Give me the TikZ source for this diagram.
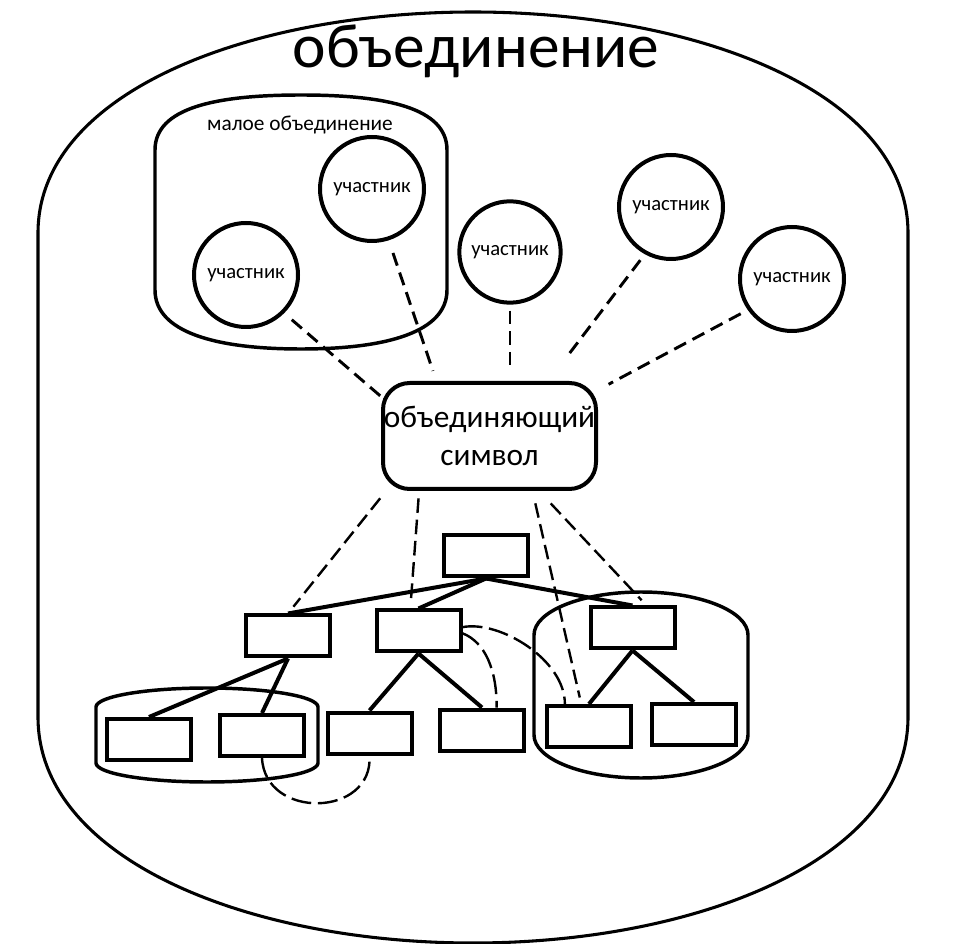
\documentclass[tikz,border=0pt]{standalone}
\usepackage{fontspec}
\setmainfont{Carlito}
\usepackage{graphicx}
\usetikzlibrary{calc}
\begin{document}
\begin{tikzpicture}[x=0.75pt,y=-0.75pt,
  outerln/.style={line width=2.3pt},
  grp/.style={line width=2.6pt},
  mem/.style={circle, draw, line width=3pt, minimum size=78pt, inner sep=0pt, font=\fontsize{15.5}{18}\selectfont},
  rbox/.style={rectangle, draw, line width=3pt, minimum width=63pt, minimum height=30.75pt, inner sep=0pt},
  symb/.style={rectangle, rounded corners=20pt, draw, line width=3pt, minimum width=159.75pt, minimum height=79.5pt, inner sep=0pt, align=center, font=\fontsize{23.5}{28}\selectfont},
  treeln/.style={line width=3pt},
  dashtop/.style={line width=2.2pt, dash pattern=on 10pt off 5.5pt},
  dashbot/.style={line width=1.8pt, dash pattern=on 11pt off 5pt},
  cdash/.style={line width=1.8pt, dash pattern=on 15pt off 5pt}]
\useasboundingbox (0,0) rectangle (968,944);
\fill[white] (0,0) rectangle (968,944);

% outer union shape
\draw[outerln] (38,717) -- (38,233) .. controls (38,92) and (250,12) .. (473,12) .. controls (696,12) and (908,92) .. (908,233) -- (908,717) .. controls (908,860) and (696,943) .. (473,943) .. controls (250,943) and (38,860) .. (38,717) -- cycle;
\node[anchor=base, inner sep=0pt] (title) at (476,68) {\resizebox{275pt}{\height}{\fontsize{47}{56}\selectfont объединение}};

% small union
\draw[grp] (155,290) -- (155,150) .. controls (155,108) and (215,95) .. (301,95) .. controls (387,95) and (447,108) .. (447,150) -- (447,290) .. controls (447,332) and (387,349) .. (301,349) .. controls (215,349) and (155,332) .. (155,290) -- cycle;
\node[anchor=base, inner sep=0pt, font=\fontsize{16}{19}\selectfont] (small) at (300,131) {малое объединение};

% members
\node[mem] (c1) at (246,275) {участник};
\node[mem] (c2) at (372,189) {участник};
\node[mem, minimum size=76pt] (c3) at (510,252) {участник};
\node[mem] (c4) at (671,207) {участник};
\node[mem] (c5) at (792,279) {участник};

% union symbol
\node[symb] (sym) at (489.5,436) {объединяющий\\символ};

% group shapes
\draw[grp] (96,763) -- (96,707) arc[start angle=180,end angle=0,x radius=83.25pt,y radius=14.25pt] -- (318,763) arc[start angle=0,end angle=-180,x radius=83.25pt,y radius=14.25pt] -- cycle;
\draw[grp] (534,735) -- (534,635) arc[start angle=180,end angle=0,x radius=80.25pt,y radius=32.25pt] -- (748,735) arc[start angle=0,end angle=-180,x radius=80.25pt,y radius=32.25pt] -- cycle;

% tree boxes
\node[rbox] (root) at (486,556) {};
\node[rbox] (L1l) at (288,636) {};
\node[rbox] (L1m) at (418.5,631) {};
\node[rbox] (L1r) at (632.5,628) {};
\node[rbox] (A) at (149,739.5) {};
\node[rbox] (B) at (262,735.5) {};
\node[rbox] (C) at (369.5,733) {};
\node[rbox] (D) at (482,730) {};
\node[rbox] (E) at (589,726.5) {};
\node[rbox] (F) at (694,724.5) {};

% tree lines
\draw[treeln] (root.south) -- (L1l.north);
\draw[treeln] (root.south) -- (L1m.north);
\draw[treeln] (root.south) -- (L1r.north);
\draw[treeln] (L1l.south) -- (A.north);
\draw[treeln] (L1l.south) -- (B.north);
\draw[treeln] (L1m.south) -- (C.north);
\draw[treeln] (L1m.south) -- (D.north);
\draw[treeln] (L1r.south) -- (E.north);
\draw[treeln] (L1r.south) -- (F.north);

% dashed links members - symbol
\draw[dashtop, shorten <=7.5pt] (c1.-45) -- (sym.160);
\draw[dashtop, shorten <=10pt, shorten >=8pt] (c2.-72) -- (sym.134);
\draw[dashtop, shorten <=4.5pt, shorten >=7pt] (c3.south) -- (c3.south |- sym.north);
\draw[dashtop, shorten <=5.6pt, shorten >=23pt] (c4.-119) -- (sym.43);
\draw[dashtop, shorten <=6pt, shorten >=9pt] (c5.-145) -- (sym.23);

% dashed links symbol - tree
\draw[dashbot, shorten <=7pt, shorten >=6.5pt] (sym.-152) -- (L1l.north);
\draw[dashbot, shorten <=5.5pt, shorten >=5pt] (sym.-142) -- (L1m.110);
\draw[dashbot, shorten <=9.5pt, shorten >=5pt] (sym.-52) -- (E.109);
\draw[dashbot, shorten <=12.75pt, shorten >=5.4pt] (sym.-48) -- (L1r.58);

% dashed curves
\draw[cdash] (B.south) .. controls +(3,62) and +(4,62) .. (C.south);
\draw[cdash] (L1m.5) .. controls (500,620) and (565,660) .. (E.137);
\draw[cdash] (L1m.-3) .. controls (485,642) and (497,670) .. (D.57);
\end{tikzpicture}
\end{document}
